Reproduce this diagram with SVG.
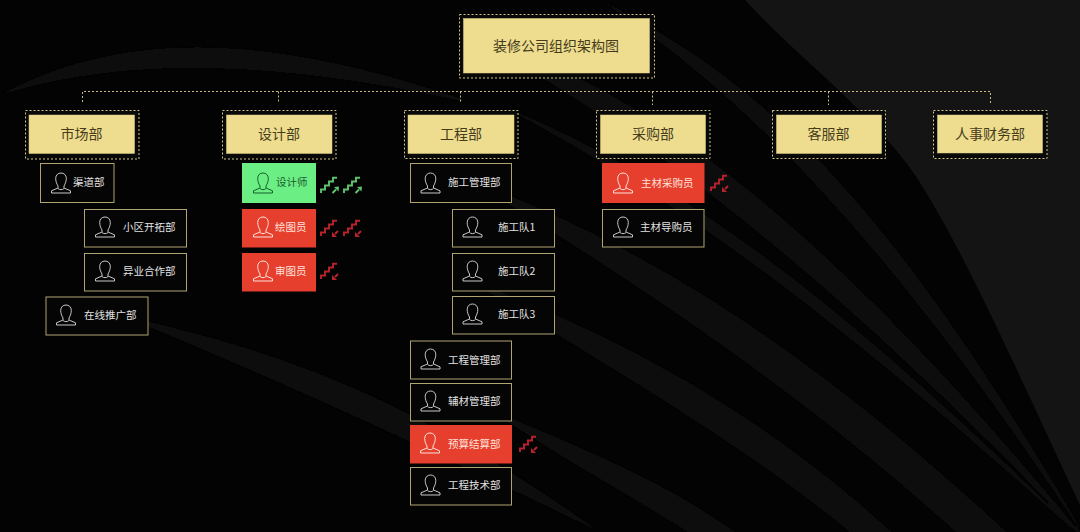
<svg xmlns="http://www.w3.org/2000/svg" width="1080" height="532" viewBox="0 0 1080 532">
<style>
text{font-family:"Noto Sans CJK SC","Noto Sans",sans-serif}
.o{fill:#090909;stroke:#d2c68a;stroke-width:1;stroke-dasharray:2 2}
.y{fill:#eedd8e;stroke:#e0d084;stroke-width:.5}
.t{fill:#463c1c;font-size:14px;text-anchor:middle}
.l{fill:#050505;stroke:#b0a473;stroke-width:1}
.lt{fill:#e2e2e2;font-size:10.5px}
.n{color:#c8c8c8}
.g{color:#14602a}.g .l{fill:#6bef85;stroke:#6bef85}.g .lt{fill:#1c5b2c}
.r{color:#fde2da}.r .l{fill:#e63f2e;stroke:#e63f2e}.r .lt{fill:#fde2da}
.ic{fill:none;stroke:currentColor;stroke-width:1}
.st{fill:none;stroke:currentColor;stroke-width:1.9}
.up{color:#5fc36f}
.dn{color:#b8232e}
.c{fill:none;stroke:#c9bd80;stroke-width:1;stroke-dasharray:2 2}
.band{fill:#101010}
.faint{fill:#0a0a0a}
</style>
<defs>
<filter id="bl" filterUnits="userSpaceOnUse" x="0" y="0" width="1080" height="532"><feGaussianBlur stdDeviation="1.500"/></filter>
<g id="p"><path class="ic" d="M-3,13C-4.500,10.500-5.300,8-5.300,5.500C-5.300,2-3,0,0,0C3,0,5.300,2,5.300,5.500C5.300,8,4.500,10.500,3,13L3,15L9.500,17.800L9.500,20L-9.500,20L-9.500,17.800L-3,15Z"/><path class="ic" d="M-3,15.500C-1.500,17,1.500,17,3,15.500"/></g>
<g id="su"><path class="st" d="M0,16V12.500H4V8.500H8V4.500H12V.8H16"/><path class="st" d="M11.500,16L15,12.500"/><path d="M13,10L18,9.500L17.500,14.500Z" fill="currentColor"/></g>
<g id="sd"><path class="st" d="M0,16V12.500H4V8.500H8V4.500H12V.8H16"/><path class="st" d="M17,11L14,14"/><path d="M11,12L11,17L16,17Z" fill="currentColor"/></g>
</defs>
<rect width="1080" height="532" fill="#030303"/>
<g id="background">
<path d="M745,0C800,60 870,110 915,175C965,250 1030,400 1080,505V0Z" fill="#141414"/>
<g filter="url(#bl)">
<path class="band" d="M600,0C780,90 900,220 1090,545C890,240 740,90 600,0Z"/>
<path class="band" d="M470,35C620,80 800,190 1090,545C800,240 620,120 470,35Z"/>
<path class="band" d="M500,105C680,180 830,290 1090,545C830,310 680,200 500,105Z"/>
<path class="band" d="M470,180C640,245 800,340 1015,540L965,540C800,390 640,285 470,180Z"/>
<path class="band" d="M470,280C640,345 770,420 900,540L860,540C740,440 620,375 470,280Z"/>
<path class="band" d="M490,410C600,455 680,490 745,540L700,540C640,500 580,470 490,410Z"/>
<path class="faint" d="M120,315C300,355 420,405 600,532C410,440 290,385 120,315Z"/>
<path class="faint" d="M0,95C130,25 280,35 480,105C280,60 130,55 0,95Z"/>
</g>
</g>
<g id="connectors">
<path class="c" d="M82.500,102V91.500H990.500V105M278.500,91.500V102M460.500,91.500V102M652.500,91.500V105M828.500,91.500V105"/>
</g>
<g id="root"><rect class="o" x="459.500" y="14.500" width="195" height="63.500"/><rect class="y" x="463.500" y="18.500" width="186" height="54.500"/><text class="t" x="556" y="51">装修公司组织架构图</text></g>
<g id="d1"><rect class="o" x="25.500" y="110.500" width="113.500" height="48.500"/><rect class="y" x="29" y="115" width="105.500" height="38.500"/><text class="t" x="81.500" y="139">市场部</text></g>
<g id="d2"><rect class="o" x="222.500" y="110.500" width="113.500" height="48.500"/><rect class="y" x="226.500" y="115" width="105.500" height="38.500"/><text class="t" x="279" y="139">设计部</text></g>
<g id="d3"><rect class="o" x="404.500" y="110.500" width="113.500" height="48"/><rect class="y" x="408" y="115" width="106" height="38.500"/><text class="t" x="461" y="139">工程部</text></g>
<g id="d4"><rect class="o" x="596.500" y="110.500" width="113.500" height="48"/><rect class="y" x="600.500" y="115" width="105" height="38.500"/><text class="t" x="653" y="139">采购部</text></g>
<g id="d5"><rect class="o" x="772.500" y="110.500" width="113" height="48"/><rect class="y" x="776.500" y="115" width="105" height="38.500"/><text class="t" x="828.500" y="139">客服部</text></g>
<g id="d6"><rect class="o" x="933.500" y="110.500" width="113.500" height="48"/><rect class="y" x="937.500" y="115" width="105" height="38"/><text class="t" x="990" y="139">人事财务部</text></g>
<g id="n1" class="n"><rect class="l" x="40.500" y="163.500" width="73.500" height="39"/><use href="#p" x="61" y="173"/><text class="lt" x="73" y="186">渠道部</text></g>
<g id="n2" class="n"><rect class="l" x="84.500" y="209.500" width="102" height="37.500"/><use href="#p" x="105" y="217"/><text class="lt" x="123" y="231">小区开拓部</text></g>
<g id="n3" class="n"><rect class="l" x="84.500" y="253.500" width="102" height="37.500"/><use href="#p" x="105" y="261"/><text class="lt" x="123" y="275">异业合作部</text></g>
<g id="n4" class="n"><rect class="l" x="46" y="297" width="102" height="38"/><use href="#p" x="66" y="305"/><text class="lt" x="84" y="319">在线推广部</text></g>
<g id="n5" class="g"><rect class="l" x="242.500" y="163.500" width="73" height="39"/><use href="#p" x="263" y="173"/><text class="lt" x="276" y="186">设计师</text></g>
<g id="n6" class="r"><rect class="l" x="242.500" y="209.500" width="73" height="37.500"/><use href="#p" x="263" y="217"/><text class="lt" x="275" y="231">绘图员</text></g>
<g id="n7" class="r"><rect class="l" x="242.500" y="253.500" width="73" height="37.500"/><use href="#p" x="263" y="261"/><text class="lt" x="275" y="275">审图员</text></g>
<g id="n8" class="n"><rect class="l" x="410.500" y="163.500" width="101" height="39"/><use href="#p" x="430.500" y="173"/><text class="lt" x="448" y="186">施工管理部</text></g>
<g id="n9" class="n"><rect class="l" x="452.500" y="209.500" width="102" height="37.500"/><use href="#p" x="472.500" y="217"/><text class="lt" x="498" y="231">施工队1</text></g>
<g id="n10" class="n"><rect class="l" x="452.500" y="253.500" width="102" height="37.500"/><use href="#p" x="472.500" y="261"/><text class="lt" x="498" y="275">施工队2</text></g>
<g id="n11" class="n"><rect class="l" x="452.500" y="296.500" width="102" height="37.500"/><use href="#p" x="472.500" y="304"/><text class="lt" x="498" y="318">施工队3</text></g>
<g id="n12" class="n"><rect class="l" x="410.500" y="341" width="101" height="38"/><use href="#p" x="430.500" y="349"/><text class="lt" x="448" y="364">工程管理部</text></g>
<g id="n13" class="n"><rect class="l" x="410.500" y="383.500" width="101" height="37.500"/><use href="#p" x="430.500" y="391"/><text class="lt" x="448" y="405">辅材管理部</text></g>
<g id="n14" class="r"><rect class="l" x="410.500" y="425.500" width="101" height="37.500"/><use href="#p" x="430" y="433"/><text class="lt" x="448" y="448">预算结算部</text></g>
<g id="n15" class="n"><rect class="l" x="410.500" y="467.500" width="101" height="37.500"/><use href="#p" x="430.500" y="475"/><text class="lt" x="448" y="489">工程技术部</text></g>
<g id="n16" class="r"><rect class="l" x="602.500" y="163.500" width="101.500" height="39"/><use href="#p" x="623" y="173"/><text class="lt" x="641" y="187">主材采购员</text></g>
<g id="n17" class="n"><rect class="l" x="602.500" y="209.500" width="101.500" height="37.500"/><use href="#p" x="623" y="217"/><text class="lt" x="640" y="231">主材导购员</text></g>
<g id="trends">
<use href="#su" class="up" x="321" y="177"/><use href="#su" class="up" x="344" y="177"/>
<use href="#sd" class="dn" x="321" y="220"/><use href="#sd" class="dn" x="344" y="220"/>
<use href="#sd" class="dn" x="321" y="263"/>
<use href="#sd" class="dn" x="711" y="175"/>
<use href="#sd" class="dn" x="520" y="436"/>
</g>
</svg>
